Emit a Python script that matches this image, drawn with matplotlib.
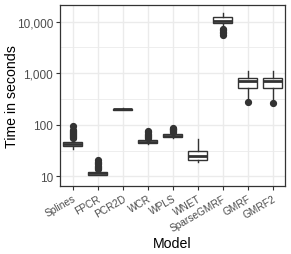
import matplotlib
matplotlib.use("Agg")
import matplotlib.pyplot as plt
from matplotlib.ticker import FixedLocator, FuncFormatter, NullFormatter

plt.rcParams['font.family'] = ['Liberation Sans', 'DejaVu Sans']

models = ["Splines", "FPCR", "PCR2D", "WCR", "WPLS", "WNET", "SparseGMRF", "GMRF", "GMRF2"]
whislo = [34, 10.4, 192, 41.5, 55, 18.9, 8300, 295, 290]
q1 = [38, 10.8, 196, 44, 57.5, 20.3, 9350, 528, 520]
med = [42, 11.5, 200, 47, 61, 25, 10500, 720, 720]
q3 = [46, 12.4, 204, 51, 66, 31, 12200, 815, 820]
whishi = [50, 13.4, 208, 53, 70, 53.5, 14600, 1080, 1080]
fliers = [
    [56, 58, 61, 64, 67, 70, 73, 76, 78, 94],
    [13.8, 14.5, 15.3, 16.2, 17.2, 18.3, 19.4, 20.3],
    [],
    [55, 58, 61, 64, 67, 71, 75],
    [72, 75, 78, 81, 84, 88],
    [],
    [5600, 6000, 6400, 6800, 7200],
    [275],
    [268],
]

stats = []
for i, m in enumerate(models):
    stats.append(dict(label=m, whislo=whislo[i], q1=q1[i], med=med[i],
                      q3=q3[i], whishi=whishi[i], fliers=fliers[i]))

fig = plt.figure(figsize=(2.91, 2.55), dpi=100)
ax = fig.add_axes([60/291, 1-187/255, 225/291, 181/255])

dark = "#333333"
pos = list(range(1, len(models)+1))
ax.bxp(stats, positions=pos, widths=0.75, patch_artist=True, showcaps=False,
       boxprops=dict(facecolor="white", edgecolor=dark, linewidth=1.0),
       medianprops=dict(color=dark, linewidth=2.0),
       whiskerprops=dict(color=dark, linewidth=1.0),
       flierprops=dict(marker="o", markerfacecolor=dark, markeredgecolor=dark,
                       markersize=4.2, linestyle="none"),
       zorder=3)

ax.set_yscale("log")
ax.set_ylim(6.5, 21000)
ax.set_xlim(0.5, len(models)+0.5)

ax.yaxis.set_major_locator(FixedLocator([10, 100, 1000, 10000]))
ax.yaxis.set_major_formatter(FuncFormatter(lambda v, p: f"{int(round(v)):,}"))
ax.yaxis.set_minor_locator(FixedLocator([10**0.5, 10**1.5, 10**2.5, 10**3.5, 10**4.5]))
ax.yaxis.set_minor_formatter(NullFormatter())

ax.set_xticks(pos)
ax.set_xticklabels(models, rotation=30, ha="right", rotation_mode="anchor")

ax.grid(True, which="major", color="#EBEBEB", linewidth=1.0, zorder=0)
ax.grid(True, which="minor", axis="y", color="#EBEBEB", linewidth=0.6, zorder=0)
ax.set_axisbelow(True)

for s in ax.spines.values():
    s.set_color(dark)
    s.set_linewidth(0.9)

ax.tick_params(axis="both", which="major", color=dark, length=3, width=0.8,
               labelcolor="#4D4D4D", pad=2)
ax.tick_params(axis="y", which="major", labelsize=8.5)
ax.tick_params(axis="x", which="major", labelsize=7.3)
ax.tick_params(axis="y", which="minor", length=0)

fig.text(172.5/291, 1-244.5/255, "Model", fontsize=10.2, color="black",
         ha="center", va="center")
fig.text(12.5/291, 1-96.5/255, "Time in seconds", fontsize=10.2, color="black",
         ha="center", va="center", rotation=90)

fig.savefig("out.png", dpi=100)
